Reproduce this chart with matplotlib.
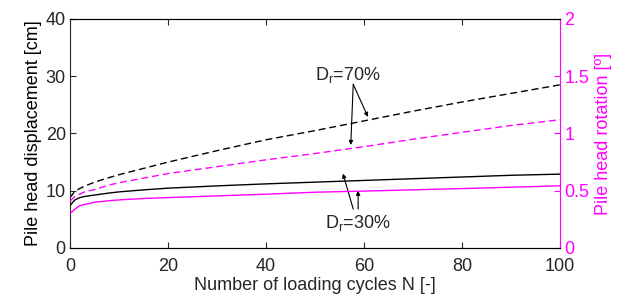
import numpy as np
import matplotlib
matplotlib.use('Agg')
import matplotlib.pyplot as plt

plt.rcParams['font.family'] = ['Liberation Sans', 'DejaVu Sans']
plt.rcParams['mathtext.default'] = 'regular'

# Number of loading cycles
N = [0, 1, 2, 3, 5, 8, 10, 15, 20, 30, 40, 50, 60, 70, 80, 90, 100]

# Pile head displacement [cm]
disp_70 = [8.8, 9.9, 10.4, 10.8, 11.5, 12.3, 12.8, 13.9, 15.0, 17.0, 18.9, 20.5, 22.2, 23.9, 25.5, 27.0, 28.5]
disp_30 = [7.4, 8.4, 8.8, 9.0, 9.25, 9.6, 9.8, 10.15, 10.45, 10.85, 11.2, 11.5, 11.8, 12.1, 12.4, 12.7, 12.9]

# Pile head rotation [deg]
rot_70 = [0.41, 0.45, 0.47, 0.49, 0.51, 0.55, 0.57, 0.61, 0.65, 0.71, 0.77, 0.825, 0.885, 0.95, 1.01, 1.07, 1.12]
rot_30 = [0.30, 0.34, 0.37, 0.38, 0.40, 0.413, 0.42, 0.432, 0.44, 0.455, 0.47, 0.487, 0.497, 0.508, 0.519, 0.531, 0.543]

grey = '#262626'
mag = '#FF00FF'
fs = 13

fig = plt.figure(figsize=(6.26, 2.99), dpi=100)
ax = fig.add_axes([0.1118, 0.1706, 0.7828, 0.7659])
ax2 = ax.twinx()

ax.plot(N, disp_70, color='k', linestyle='--', linewidth=1.0, dashes=(5, 2.8))
ax.plot(N, disp_30, color='k', linewidth=1.0)
ax2.plot(N, rot_70, color=mag, linestyle='--', linewidth=1.0, dashes=(5, 2.8))
ax2.plot(N, rot_30, color=mag, linewidth=1.0)

ax.set_xlim(0, 100)
ax.set_ylim(0, 40)
ax2.set_ylim(0, 2)
ax.set_xticks([0, 20, 40, 60, 80, 100])
ax.set_yticks([0, 10, 20, 30, 40])
ax2.set_yticks([0, 0.5, 1, 1.5, 2])
ax2.set_yticklabels(['0', '0.5', '1', '1.5', '2'])

ax.tick_params(direction='in', top=True, labelsize=fs, colors=grey, length=4, pad=3)
ax.tick_params(axis='x', pad=7)
ax2.tick_params(direction='in', labelsize=fs, colors=mag, length=4, pad=3)
for s in ['left', 'bottom', 'top']:
    ax.spines[s].set_color(grey)
ax2.spines['right'].set_color(mag)
ax2.spines['left'].set_visible(False)
ax.spines['right'].set_visible(False)

ax.set_xlabel('Number of loading cycles N [-]', fontsize=fs, color=grey, labelpad=2)
ax.set_ylabel('Pile head displacement [cm]', fontsize=fs, color='k', labelpad=3)
ax2.set_ylabel('Pile head rotation [º]', fontsize=fs, color=mag, labelpad=4)

arrow = dict(arrowstyle='-|>', color='k', lw=0.8, mutation_scale=6, shrinkA=0, shrinkB=0)
ax.text(56.7, 30.3, 'D$_r$=70%', fontsize=fs, ha='center', va='center', color=grey)
ax.annotate('', xy=(60.8, 22.9), xytext=(57.8, 28.6), arrowprops=arrow)
ax.annotate('', xy=(57.3, 18.0), xytext=(57.8, 28.6), arrowprops=arrow)

ax.text(58.8, 4.4, 'D$_r$=30%', fontsize=fs, ha='center', va='center', color=grey)
ax.annotate('', xy=(55.7, 13.0), xytext=(57.8, 6.8), arrowprops=arrow)
ax.annotate('', xy=(58.8, 10.0), xytext=(58.8, 6.8), arrowprops=arrow)

fig.savefig('out.png', dpi=100)
